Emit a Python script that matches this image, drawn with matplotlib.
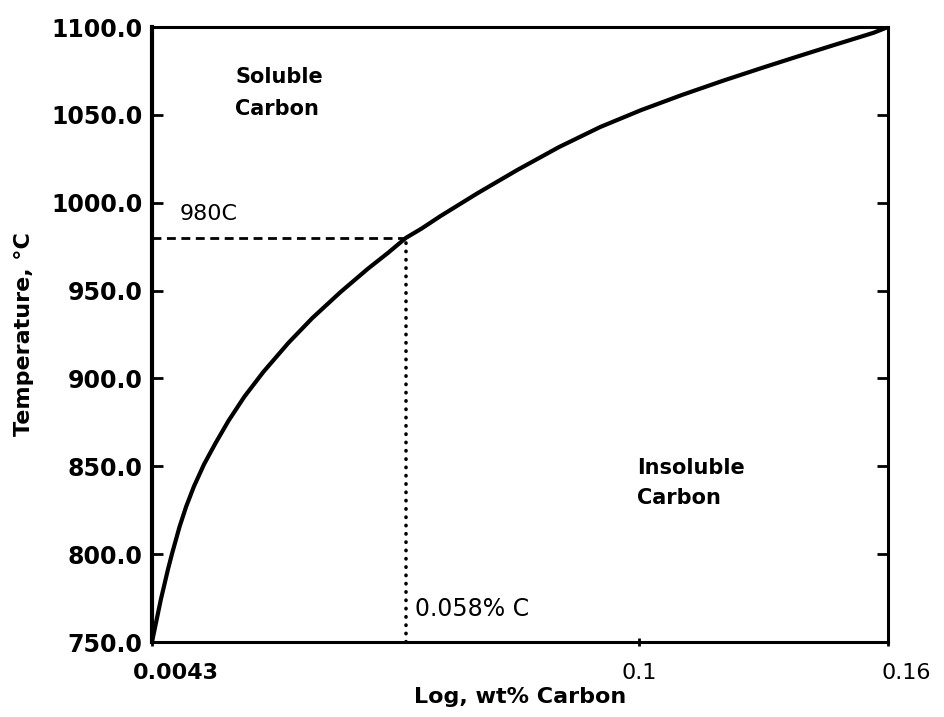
import numpy as np
import matplotlib.pyplot as plt
from matplotlib.ticker import FormatStrFormatter
from matplotlib.transforms import ScaledTranslation

# Carbon solubility limit in austenite: wt% C against temperature
carbon = [0.0043, 0.00616, 0.00766, 0.00853, 0.01014, 0.01153, 0.01318,
          0.01532, 0.01764, 0.02048, 0.02386, 0.02788, 0.03317, 0.03822,
          0.04419, 0.04994, 0.05423, 0.058, 0.06082, 0.06417, 0.07083,
          0.07803, 0.08557, 0.09298, 0.10043, 0.11026, 0.1204, 0.1302,
          0.13815, 0.14622, 0.15648, 0.16]
temp = [750.0, 774.0, 791.1, 800.2, 815.7, 827.1, 838.6,
        851.2, 862.7, 875.9, 889.7, 903.8, 920.3, 934.4,
        949.2, 962.4, 971.5, 980.0, 985.3, 992.3, 1005.3,
        1018.6, 1031.7, 1043.1, 1052.7, 1061.3, 1069.6, 1077.2,
        1083.2, 1089.2, 1096.7, 1100.0]

# Reading taken off the curve
cut_carbon = 0.058
cut_temp = 980

x_ticks = [0.0043, 0.1, 0.16]
x_tick_labels = ['0.0043', '0.1', '0.16']
y_ticks = [750, 800, 850, 900, 950, 1000, 1050, 1100]

# The "log" axis of the original is a stretched axis: known values and
# where they sit along it (fraction of axis width)
axis_vals = [0.0043, 0.058, 0.1, 0.16]
axis_frac = [0.0, 0.345, 0.662, 1.0]


def forward(x):
    return np.interp(x, axis_vals, axis_frac)


def inverse(f):
    return np.interp(f, axis_frac, axis_vals)


fig = plt.figure(figsize=(9.44, 7.17), dpi=100)
ax = fig.add_axes([0.161, 0.1046, 0.7797, 0.8577])
ax.set_xscale('function', functions=(forward, inverse))

# solubility curve
ax.plot(carbon, temp, color='black', lw=3, solid_capstyle='round',
        solid_joinstyle='round', zorder=3)

# guide lines to the 980C point
ax.plot([carbon[0], cut_carbon], [cut_temp, cut_temp], color='black',
        lw=2, ls=(0, (3.2, 2.0)))
ax.plot([cut_carbon, cut_carbon], [y_ticks[0], cut_temp], color='black',
        lw=2.6, ls=(0, (0.1, 2.2)), dash_capstyle='round')

ax.set_xlim(carbon[0], carbon[-1])
ax.set_ylim(y_ticks[0], y_ticks[-1])

ax.set_xticks(x_ticks)
ax.set_xticklabels(x_tick_labels)
ax.set_yticks(y_ticks)
ax.yaxis.set_major_formatter(FormatStrFormatter('%.1f'))

ax.tick_params(axis='y', direction='in', length=8, width=2, right=True,
               labelsize=17, pad=7)
ax.tick_params(axis='x', direction='inout', length=6, width=2,
               labelsize=16, pad=12)
for lbl in ax.get_yticklabels():
    lbl.set_fontweight('bold')
ax.get_xticklabels()[0].set_fontweight('bold')

# nudge the end labels as in the printed figure
shift = {0: 24, 2: 18}
for i, dx in shift.items():
    lbl = ax.get_xticklabels()[i]
    lbl.set_transform(lbl.get_transform() +
                      ScaledTranslation(dx / 100, 0, fig.dpi_scale_trans))

for side in ['top', 'right', 'bottom']:
    ax.spines[side].set_linewidth(2.2)
ax.spines['left'].set_linewidth(3)

ax.set_xlabel('Log, wt% Carbon', fontsize=16, fontweight='bold', labelpad=3)
ax.set_ylabel('Temperature, °C', fontsize=16, fontweight='bold', labelpad=12)

# region and reading labels
ax.text(0.113, 0.893, 'Soluble\nCarbon', transform=ax.transAxes,
        fontsize=15, fontweight='bold', va='center', ha='left', linespacing=1.75)
ax.text(0.659, 0.259, 'Insoluble\nCarbon', transform=ax.transAxes,
        fontsize=15, fontweight='bold', va='center', ha='left', linespacing=1.6)
ax.annotate(f'{cut_temp}C', xy=(carbon[0], cut_temp), xytext=(28, 24),
            textcoords='offset pixels', fontsize=16, va='center', ha='left')
ax.annotate(f'{cut_carbon}% C', xy=(cut_carbon, 769), xytext=(9, 0),
            textcoords='offset pixels', fontsize=17, va='center', ha='left')

fig.savefig('out.png', dpi=100)
